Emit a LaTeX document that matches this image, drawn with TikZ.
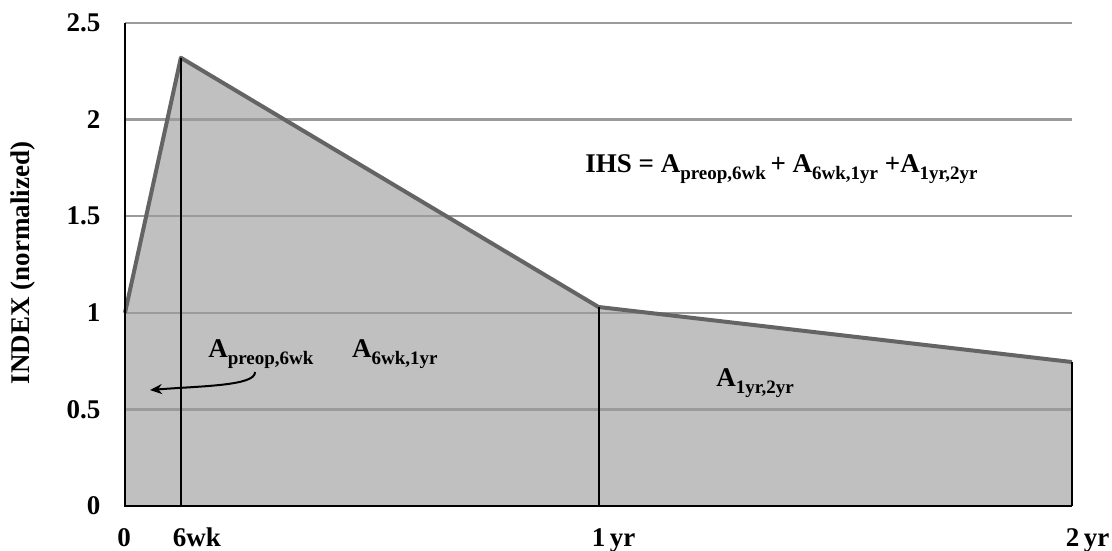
\documentclass[tikz,border=0pt]{standalone}
\usepackage{fontspec}
\setmainfont{Liberation Serif}
\usetikzlibrary{arrows.meta}

\definecolor{areagray}{RGB}{192,192,192}
\definecolor{gridgray}{RGB}{155,155,155}
\definecolor{curvegray}{RGB}{100,100,100}
\newcommand{\lowsub}[1]{\raisebox{-3.5pt}{\fontsize{9.5}{11}\selectfont #1}}

\begin{document}
\begin{tikzpicture}[x=236.75pt,y=96.6pt,
    font=\fontsize{13.5}{16}\selectfont\bfseries,
    grid/.style={gridgray,line width=1.2pt},
    axis/.style={black,line width=1.3pt},
    mark line/.style={black,line width=1pt},
    curve/.style={curvegray,line width=2pt,line join=round},
    pointer/.style={black,line width=1pt,-{Stealth[length=6pt,width=5pt]}}]
   \useasboundingbox (-0.264,-0.233) rectangle (2.0845,2.619);
   \coordinate (p0) at (0,1);
   \coordinate (p1) at (0.118,2.32);
   \coordinate (p2) at (1,1.03);
   \coordinate (p3) at (2,0.745);
   \coordinate (o) at (0,0);
   \coordinate (q1) at (0.118,0);
   \coordinate (q2) at (1,0);
   \coordinate (q3) at (2,0);
   \coordinate (top) at (0,2.5);
   % area under the index curve
   \fill[areagray] (o) -- (p0) -- (p1) -- (p2) -- (p3) -- (q3) -- cycle;
   \foreach \v in {0.5,1,1.5,2,2.5}
      \draw[grid] (0,\v) -- (2,\v);
   \foreach \v in {0,0.5,1,1.5,2,2.5}
      \node[anchor=east,inner sep=0pt] (t\v) at (-0.0513,\v) {\v};
   \draw[curve] (p0) -- (p1) -- (p2) -- (p3);
   \draw[mark line] (q1) -- (p1);
   \draw[mark line] (q2) -- (p2);
   \draw[mark line] (q3) -- (p3);
   \draw[axis] (top) -- (o) -- (q3);
   % axis labels
   \node[rotate=90] (ylab) at (-0.2154,1.258) {INDEX (normalized)};
   \node[anchor=base] (x0) at (-0.002,-0.212) {0};
   \node[anchor=base] (x1) at (0.152,-0.212) {6wk};
   \node[anchor=base] (x2) at (1.032,-0.212) {1\,yr};
   \node[anchor=base] (x3) at (2.033,-0.212) {2\,yr};
   % areas
   \node[anchor=base west,inner sep=0pt] (a1) at (0.175,0.766) {A\lowsub{preop,6wk}};
   \node[anchor=base west,inner sep=0pt] (a2) at (0.479,0.766) {A\lowsub{6wk,1yr}};
   \node[anchor=base west,inner sep=0pt] (a3) at (1.248,0.616) {A\lowsub{1yr,2yr}};
   \node[anchor=base west,inner sep=0pt] (ihs) at (0.9715,1.724)
      {IHS = A\lowsub{preop,6wk}\,+ A\lowsub{6wk,1yr} +A\lowsub{1yr,2yr}};
   \coordinate (s) at (0.2745,0.6936);
   \coordinate (e) at (0.0528,0.600);
   \draw[pointer] (s) .. controls (0.2766,0.621) and (0.158,0.621) .. (e);
\end{tikzpicture}
\end{document}
